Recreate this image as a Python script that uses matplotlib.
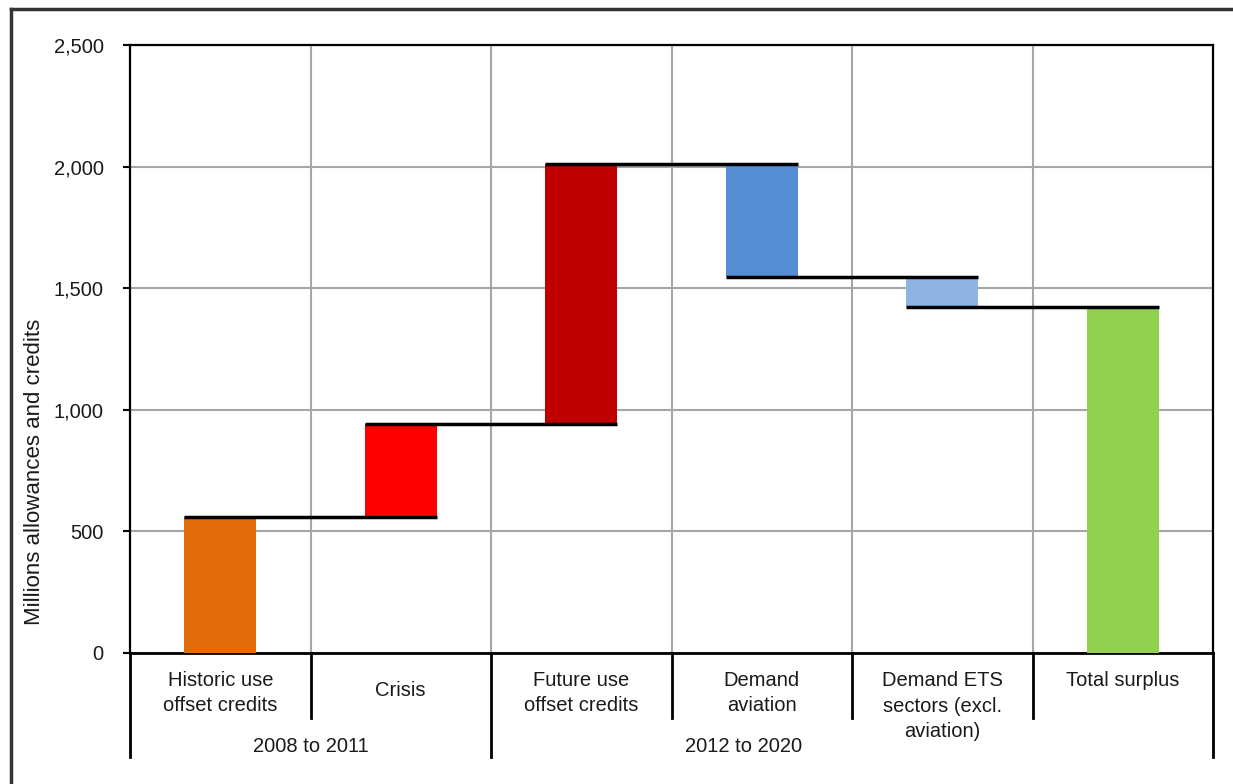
import matplotlib
matplotlib.use("Agg")
import matplotlib.pyplot as plt
from matplotlib.lines import Line2D
from matplotlib.ticker import FuncFormatter
import matplotlib.transforms as mtransforms

plt.rcParams['font.family'] = ['Liberation Sans', 'DejaVu Sans']

# ---- data ----
categories = ["Historic use\noffset credits", "Crisis", "Future use\noffset credits",
              "Demand\naviation", "Demand ETS\nsectors (excl.\naviation)", "Total surplus"]
deltas = [560, 382, 1068, -464, -124]
total_surplus = 1422
groups = ["2008 to 2011", "2012 to 2020"]
colors = ["#E36C0A", "#FF0000", "#C00000", "#558ED5", "#8DB4E2", "#92D050"]
yticks = [0, 500, 1000, 1500, 2000, 2500]

# ---- derived ----
bases, heights, levels = [], [], []
level = 0
for d in deltas:
    bases.append(level if d >= 0 else level + d)
    heights.append(abs(d))
    level += d
    levels.append(level)
bases.append(0)
heights.append(total_surplus)

W, H = 1233, 784
fig = plt.figure(figsize=(W / 100, H / 100), dpi=100)
ax = fig.add_axes([130 / W, 1 - 653 / H, 1083 / W, 608 / H])

x = list(range(len(categories)))
ax.bar(x, heights, bottom=bases, width=0.4, color=colors, zorder=3)
for i, lv in enumerate(levels):
    ax.plot([i - 0.2, i + 1.2], [lv, lv], color="black", lw=2.5, zorder=4,
            solid_capstyle="butt")

ax.set_xlim(-0.5, 5.5)
ax.set_ylim(0, 2500)
ax.set_yticks(yticks)
ax.yaxis.set_major_formatter(FuncFormatter(lambda v, p: f"{int(v):,}"))
ax.set_xticks([])
ax.yaxis.grid(True, color="#a6a6a6", lw=1.5, zorder=0)
for b in [0.5, 1.5, 2.5, 3.5, 4.5]:
    ax.axvline(b, color="#a6a6a6", lw=1.5, zorder=0)
ax.tick_params(axis="y", direction="out", length=5, width=1.5, pad=14,
               labelsize=14.5, labelcolor="#1a1a1a")
for s in ax.spines.values():
    s.set_color("black")
    s.set_linewidth(1.6)
ax.spines["bottom"].set_linewidth(2.0)

# category axis below
trans = mtransforms.blended_transform_factory(ax.transData, ax.transAxes)
def yfrac(py):
    return (653 - py) / 608

for xb, ybot in [(-0.5, 757), (0.5, 718), (1.5, 757), (2.5, 718), (3.5, 718), (4.5, 718), (5.5, 757)]:
    ax.add_line(Line2D([xb, xb], [0, yfrac(ybot)], transform=trans, color="black",
                       lw=2.0, clip_on=False))

label_centers = [693, 690, 693, 693, 706, 681]
for i, (cat, cy) in enumerate(zip(categories, label_centers)):
    ax.text(i, yfrac(cy), cat, transform=trans, ha="center", va="center",
            fontsize=14.5, color="#1a1a1a", linespacing=1.45, clip_on=False)

ax.text(0.5, yfrac(746), groups[0], transform=trans, ha="center", va="center",
        fontsize=14.5, color="#1a1a1a", clip_on=False)
ax.text(2.9, yfrac(746), groups[1], transform=trans, ha="center", va="center",
        fontsize=14.5, color="#1a1a1a", clip_on=False)

# y label
ax.text((35 - 130) / 1083, yfrac(472), "Millions allowances and credits",
        transform=ax.transAxes, rotation=90, ha="center", va="center",
        fontsize=16, color="#1a1a1a", clip_on=False)

# outer frame
fig.add_artist(Line2D([11 / W, 1], [1 - 9 / H, 1 - 9 / H], transform=fig.transFigure,
                      color="#333333", lw=2.5))
fig.add_artist(Line2D([11 / W, 11 / W], [0, 1 - 9 / H], transform=fig.transFigure,
                      color="#333333", lw=2.5))

fig.savefig("out.png", dpi=100)
